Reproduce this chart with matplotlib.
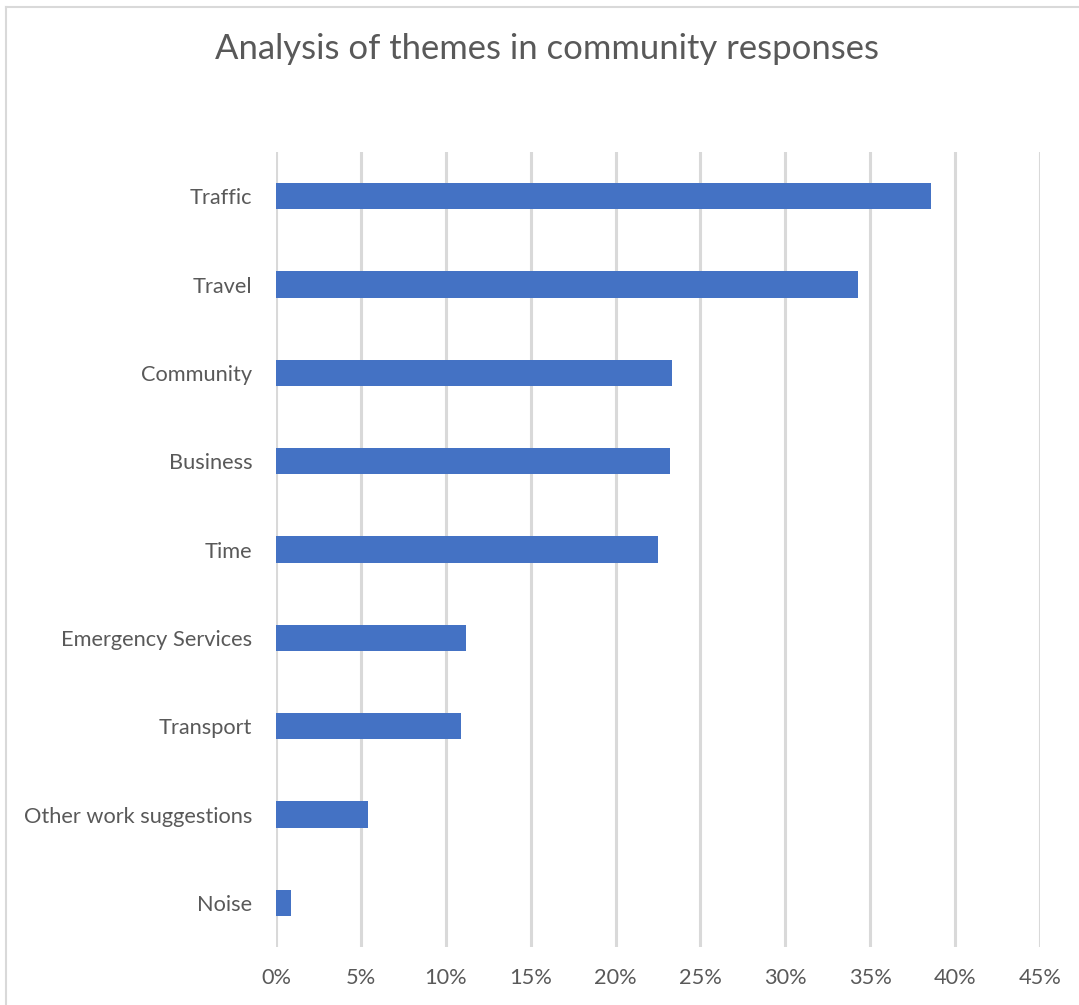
import matplotlib
matplotlib.use("Agg")
import matplotlib.pyplot as plt
from matplotlib.ticker import PercentFormatter

# Data (percent of responses)
themes = ["Traffic", "Travel", "Community", "Business", "Time",
          "Emergency Services", "Transport", "Other work suggestions", "Noise"]
shares = [38.6, 34.3, 23.3, 23.2, 22.5, 11.2, 10.9, 5.4, 0.86]
xticks = [0, 5, 10, 15, 20, 25, 30, 35, 40, 45]

text_col = "#595959"
grid_col = "#d9d9d9"
bar_col = "#4472c4"

plt.rcParams["font.family"] = ["Lato", "DejaVu Sans"]

W, H = 1079, 1005
fig = plt.figure(figsize=(W / 100, H / 100), dpi=100)
ax = fig.add_axes([276 / W, (H - 947) / H, (1040 - 276) / W, (947 - 152) / H])

ypos = list(range(len(themes)))
ax.barh(ypos, shares, height=0.3, color=bar_col, zorder=3)
ax.set_ylim(len(themes) - 0.5, -0.5)
ax.set_xlim(0, 45)
ax.set_xticks(xticks)
ax.xaxis.set_major_formatter(PercentFormatter(decimals=0))
ax.set_yticks(ypos)
ax.set_yticklabels(themes)

ax.grid(axis="x", color=grid_col, linewidth=2.2, zorder=0)
for s in ax.spines.values():
    s.set_visible(False)
ax.tick_params(axis="both", length=0, colors=text_col, labelsize=15.7)
ax.tick_params(axis="x", pad=15)
ax.tick_params(axis="y", pad=17)

fig.text(547 / W, 1 - 49 / H, "Analysis of themes in community responses",
         ha="center", va="center", fontsize=24.9, color=text_col)

# chart border (left and top edges visible)
fig.add_artist(plt.Line2D([6 / W, 6 / W], [0, 1 - 7 / H], color=grid_col, lw=1.5))
fig.add_artist(plt.Line2D([6 / W, 1], [1 - 7 / H, 1 - 7 / H], color=grid_col, lw=1.5))

fig.savefig("out.png", dpi=100)
